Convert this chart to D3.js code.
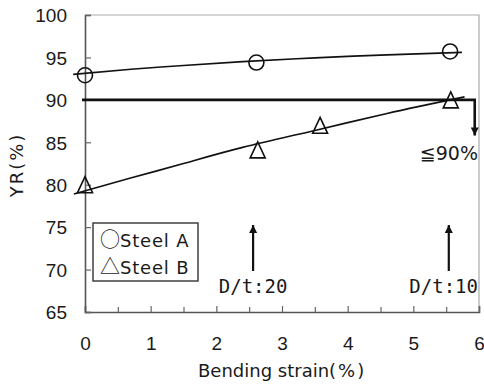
<!DOCTYPE html>
<html>
<head>
<meta charset="utf-8">
<script src="https://cdn.jsdelivr.net/npm/d3@7"></script>
<style>
  body { margin: 0; background: #fff; }
  svg { display: block; }
  text { fill: #1a1a1a; }
</style>
</head>
<body>
<div id="chart"></div>
<script>
// tick values
const xTicks = [0, 1, 2, 3, 4, 5, 6];
const xMinorTicks = [0.5, 1.5, 2.5, 3.5, 4.5, 5.5];
const yTicks = [65, 70, 75, 80, 85, 90, 95, 100];

// measured points
const steelA = [[0, 92.9], [2.61, 94.4], [5.56, 95.7]];
const steelB = [[0, 80.0], [2.63, 84.1], [3.58, 87.0], [5.57, 90.0]];

// fitted curves
const fitA = [[-0.18, 93.0], [0.7, 93.6], [1.5, 94.05], [2.4, 94.5], [3.5, 94.95], [4.6, 95.3], [5.74, 95.6]];
const fitB = [[-0.17, 78.9], [0.68, 80.75], [1.5, 82.5], [2.4, 84.4], [3.5, 86.4], [4.6, 88.4], [5.78, 90.35]];

// annotations
const limitY = 90;
const limitEndX = 5.935;
const limitArrowTo = 85.8;
const dtMarks = [{x: 2.56, label: 'D/t:20'}, {x: 5.54, label: 'D/t:10'}];
const legendSymbols = ['○', '△'];
const legendNames = ['Steel A', 'Steel B'];

const W = 484, H = 385;
const svg = d3.select('#chart').append('svg').attr('width', W).attr('height', H);

const x = d3.scaleLinear().domain([0, 6]).range([85, 479]);
const y = d3.scaleLinear().domain([65, 100]).range([312, 15]);

const numFont = '"Liberation Sans", Arial, sans-serif';
const sansFont = '"DejaVu Sans", sans-serif';
const monoFont = '"DejaVu Sans Mono", monospace';
const jpFont = '"Noto Sans CJK JP", sans-serif';

svg.append('defs').append('marker')
  .attr('id', 'arr')
  .attr('viewBox', '0 0 10 10')
  .attr('refX', 10).attr('refY', 5)
  .attr('markerWidth', 9).attr('markerHeight', 8)
  .attr('markerUnits', 'userSpaceOnUse')
  .attr('orient', 'auto')
  .append('path').attr('d', 'M0,0 L10,5 L0,10 Z').attr('fill', '#111');

// frame: top and right light grey
svg.append('path')
  .attr('d', `M${x(0)},${y(100)} H${x(6)} V${y(65)}`)
  .attr('fill', 'none').attr('stroke', '#aaa').attr('stroke-width', 1.2);

// axes with inward ticks
const xAxis = svg.append('g').attr('transform', `translate(0,${y(65)})`)
  .call(d3.axisBottom(x).tickValues(xTicks).tickSize(-6).tickPadding(24.5).tickFormat(d3.format('d')));
svg.append('g').attr('transform', `translate(0,${y(65)})`)
  .call(d3.axisBottom(x).tickValues(xMinorTicks).tickSize(-5).tickFormat(''))
  .call(g => g.select('.domain').remove())
  .selectAll('.tick line').attr('stroke', '#666').attr('stroke-width', 1.2);
const yAxis = svg.append('g').attr('transform', `translate(${x(0)},0)`)
  .call(d3.axisLeft(y).tickValues(yTicks).tickSize(-6).tickPadding(18));

[xAxis, yAxis].forEach(g => {
  g.select('.domain').attr('stroke', '#555').attr('stroke-width', 1.6);
  g.selectAll('.tick line').attr('stroke', '#666').attr('stroke-width', 1.2);
  g.selectAll('.tick text').attr('font-family', numFont).attr('font-size', 19).attr('fill', '#1a1a1a');
});
yAxis.selectAll('.tick text').attr('dy', '0.36em');

// axis titles
const xTitle = svg.append('text')
  .attr('x', 198).attr('y', 377)
  .attr('font-family', sansFont).attr('font-size', 18)
  .text('Bending strain');
xTitle.append('tspan').attr('letter-spacing', 2).text('(%)');
svg.append('text')
  .attr('transform', 'translate(23,165) rotate(-90)')
  .attr('text-anchor', 'middle')
  .attr('font-family', sansFont).attr('font-size', 18)
  .attr('letter-spacing', 2)
  .text('YR(%)');

// 90% limit line with arrow down
svg.append('path')
  .attr('d', `M${x(0) - 3},${y(limitY)} H${x(limitEndX)} V${y(limitArrowTo)}`)
  .attr('fill', 'none').attr('stroke', '#111').attr('stroke-width', 2.6)
  .attr('marker-end', 'url(#arr)');
svg.append('text')
  .attr('x', 478).attr('y', 160)
  .attr('text-anchor', 'end')
  .attr('font-family', sansFont).attr('font-size', 19)
  .text('≦90%');

// fitted curves
const line = d3.line().x(d => x(d[0])).y(d => y(d[1])).curve(d3.curveNatural);
[fitA, fitB].forEach(pts => {
  svg.append('path').attr('d', line(pts))
    .attr('fill', 'none').attr('stroke', '#111').attr('stroke-width', 1.6);
});

// markers
svg.selectAll('circle.a').data(steelA).join('circle')
  .attr('class', 'a')
  .attr('cx', d => x(d[0])).attr('cy', d => y(d[1])).attr('r', 7.5)
  .attr('fill', 'none').attr('stroke', '#111').attr('stroke-width', 1.6);
svg.selectAll('path.b').data(steelB).join('path')
  .attr('class', 'b')
  .attr('transform', d => `translate(${x(d[0])},${y(d[1])})`)
  .attr('d', 'M-7.5,8 L0,-8 L7.5,8 Z')
  .attr('fill', 'none').attr('stroke', '#111').attr('stroke-width', 1.6);

// D/t arrows
dtMarks.forEach(m => {
  const px = x(m.x);
  svg.append('line')
    .attr('x1', px).attr('x2', px)
    .attr('y1', 271).attr('y2', 225)
    .attr('stroke', '#111').attr('stroke-width', 2.2)
    .attr('marker-end', 'url(#arr)');
  const t = svg.append('text')
    .attr('y', 293)
    .attr('text-anchor', 'end')
    .attr('font-family', monoFont).attr('font-size', 19)
    .text(m.label);
  const w = t.node().getComputedTextLength();
  t.attr('x', Math.min(px + w / 2, x(6) - 1));
});

// legend
const lg = svg.append('g');
lg.append('rect')
  .attr('x', 93).attr('y', 223).attr('width', 105).attr('height', 58)
  .attr('fill', '#fff').attr('stroke', '#333').attr('stroke-width', 1.4);
const items = lg.selectAll('text').data(legendNames).join('text')
  .attr('x', 100).attr('y', (d, i) => 247 + i * 26.5);
items.append('tspan')
  .attr('font-family', jpFont).attr('font-size', 20)
  .text((d, i) => legendSymbols[i]);
items.append('tspan')
  .attr('font-family', sansFont).attr('font-size', 18).attr('letter-spacing', 0.8)
  .text(d => d);
</script>
</body>
</html>
